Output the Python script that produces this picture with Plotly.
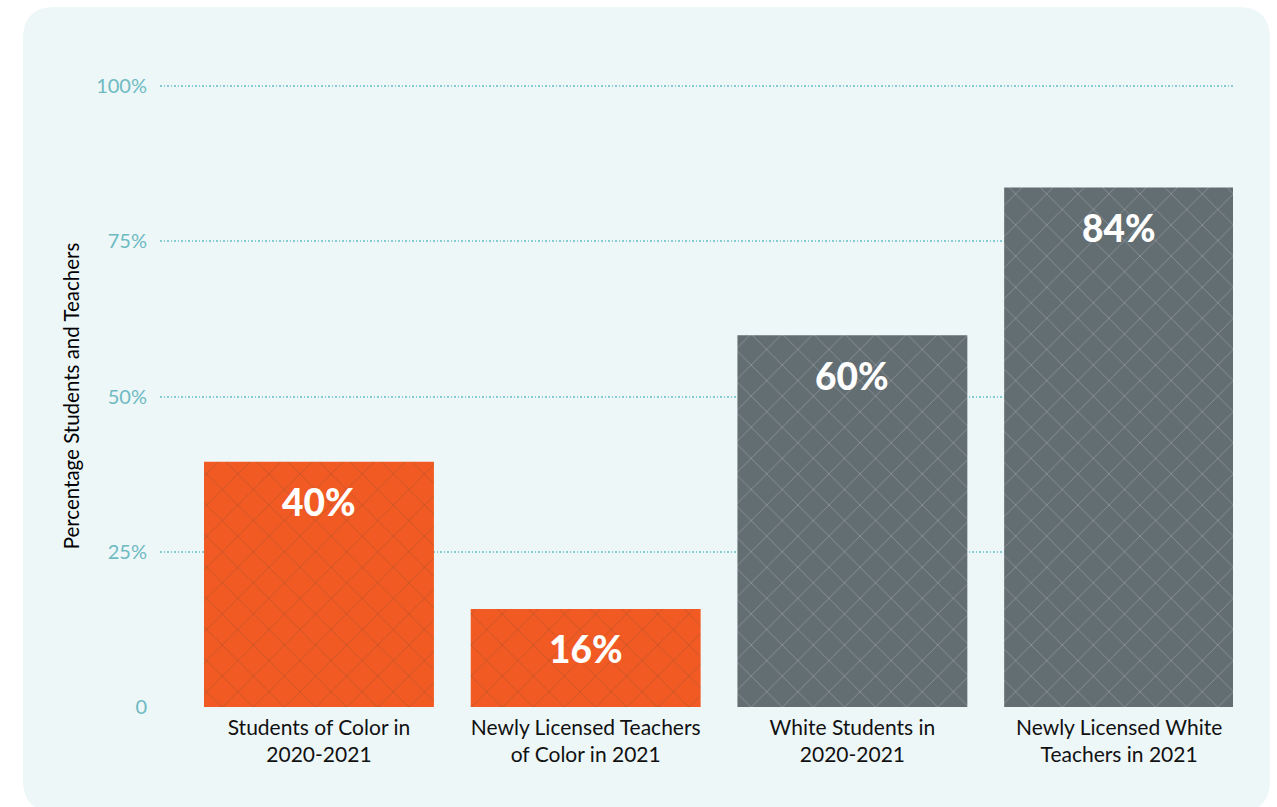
import plotly.graph_objects as go

categories = ["Students of Color in<br>2020-2021",
              "Newly Licensed Teachers<br>of Color in 2021",
              "White Students in<br>2020-2021",
              "Newly Licensed White<br>Teachers in 2021"]
values = [39.5, 15.8, 59.9, 83.7]
value_labels = ["40%", "16%", "60%", "84%"]
bar_colors = ["#F15A22", "#F15A22", "#636E73", "#636E73"]
pattern_colors = ["#C9471A", "#C9471A", "#55605F", "#55605F"]
tick_vals = [0, 25, 50, 75, 100]
tick_text = ["0", "25%", "50%", "75%", "100%"]

W, H = 1277, 807
ml, mr, mt, mb = 160, 44, 85, 100
pw, ph = W - ml - mr, H - mt - mb

fig = go.Figure()
fig.add_trace(go.Bar(
    x=categories, y=values,
    marker=dict(color=bar_colors, line=dict(width=0),
                pattern=dict(shape="x", fgcolor=pattern_colors, fgopacity=0.28,
                             size=22, solidity=0.07)),
    width=0.862, hoverinfo="skip",
))

for c, v, t in zip(categories, values, value_labels):
    fig.add_annotation(x=c, y=v, text=t, showarrow=False, yanchor="middle",
                       yshift=-40, font=dict(family="Lato", size=37, color="white", weight=900))

def px(x):
    return (x - ml) / pw
def py(y):
    return 1 - (y - mt) / ph

x0, x1, y0, y1, r = 23, 1270, 7, 812, 32
path = (f"M {px(x0+r)},{py(y0)} L {px(x1-r)},{py(y0)} Q {px(x1)},{py(y0)} {px(x1)},{py(y0+r)} "
        f"L {px(x1)},{py(y1-r)} Q {px(x1)},{py(y1)} {px(x1-r)},{py(y1)} "
        f"L {px(x0+r)},{py(y1)} Q {px(x0)},{py(y1)} {px(x0)},{py(y1-r)} "
        f"L {px(x0)},{py(y0+r)} Q {px(x0)},{py(y0)} {px(x0+r)},{py(y0)} Z")
fig.add_shape(type="path", path=path, xref="paper", yref="paper",
              fillcolor="#EDF7F8", line=dict(width=0), layer="below")

fig.update_layout(
    width=W, height=H,
    margin=dict(l=ml, r=mr, t=mt, b=mb, autoexpand=False),
    paper_bgcolor="white", plot_bgcolor="rgba(0,0,0,0)",
    showlegend=False,
    font=dict(family="Lato", color="black"),
)
fig.update_xaxes(showgrid=False, showline=False, zeroline=False, ticks="", automargin=False,
                 range=[-0.596, 3.427], ticklabelstandoff=6,
                 tickfont=dict(family="Lato", size=21, color="#111111"))
fig.update_yaxes(range=[0, 100.2], tickvals=tick_vals, ticktext=tick_text, automargin=False,
                 showgrid=True, gridcolor="#86CCD3", griddash="1.5px,2px", gridwidth=1.5,
                 zeroline=False, showline=False, ticks="", ticklabelstandoff=12,
                 tickfont=dict(family="Lato", size=20, color="#6DBAC2"),
                 title=dict(text="Percentage Students and Teachers", standoff=10,
                            font=dict(family="Lato", size=20.5, color="black")))

fig.write_html("out.html", config={"displayModeBar": False},
               post_script="document.body.style.margin='0';")
